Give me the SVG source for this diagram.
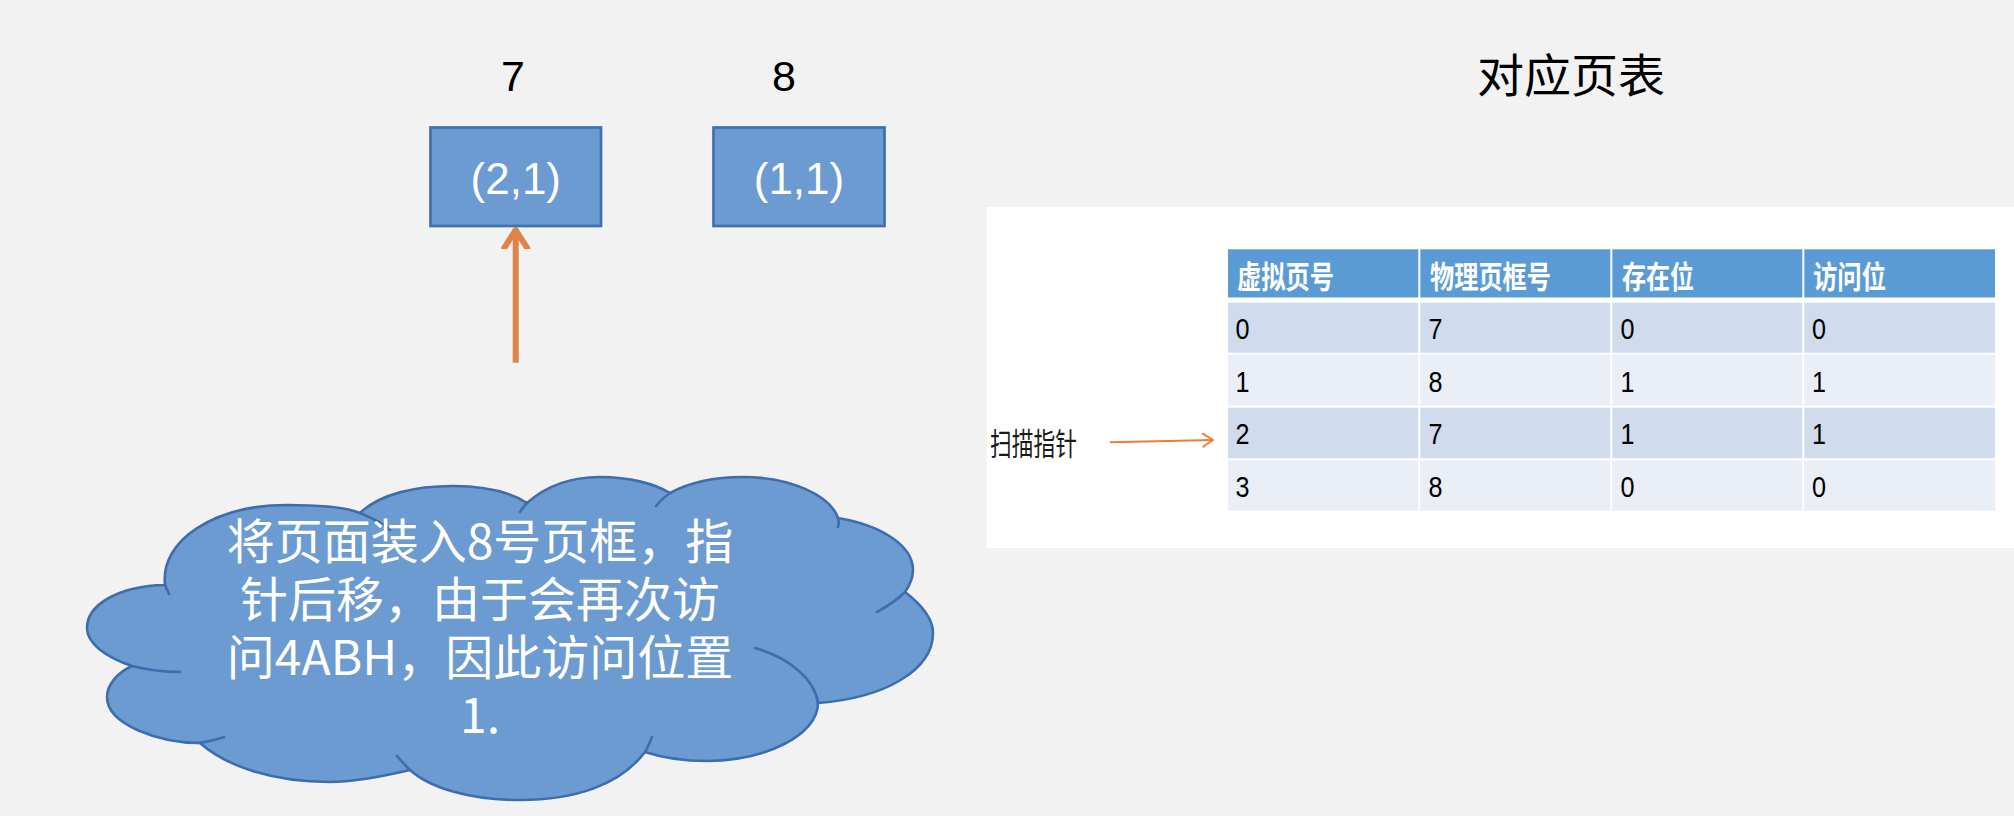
<svg xmlns="http://www.w3.org/2000/svg" width="2014" height="816" viewBox="0 0 2014 816">
  <style>
    .box { fill: #6B9BD1; stroke: #4170AE; stroke-width: 2.7; }
    .boxtxt { font-family: "Liberation Sans", "Noto Sans", sans-serif; font-size: 44px; fill: #FFFFFF; text-anchor: middle; }
    .num { font-family: "Liberation Sans", "Noto Sans", sans-serif; font-size: 43px; fill: #000000; text-anchor: middle; }
    .title { font-family: "Noto Sans CJK SC", sans-serif; font-size: 46px; fill: #000000; }
    .hdr { font-family: "Noto Sans CJK SC", sans-serif; font-size: 31px; font-weight: bold; fill: #FFFFFF; }
    .cell { font-family: "Liberation Sans", "Noto Sans", sans-serif; font-size: 30px; fill: #000000; }
    .cloudtxt { font-family: "Noto Sans CJK SC", sans-serif; font-size: 48px; fill: #FFFFFF; text-anchor: middle; }
    .ptr { font-family: "Noto Sans CJK SC", sans-serif; font-size: 31px; fill: #1A1A1A; }
    .cloud { fill: #6B9BD1; stroke: #3E6DAE; stroke-width: 2.6; stroke-linejoin: round; }
    .tails { fill: none; stroke: #3E6DAE; stroke-width: 2.6; stroke-linecap: round; }
  </style>
  <defs>
    <marker id="openBig" markerUnits="userSpaceOnUse" markerWidth="40" markerHeight="40" viewBox="-20 -20 40 40" refX="0" refY="0" orient="auto">
      <polyline points="-19,-11.5 -1,0 -19,11.5" fill="none" stroke="#E0834A" stroke-width="6" stroke-linecap="round" stroke-linejoin="round"/>
    </marker>
    <marker id="openSmall" markerUnits="userSpaceOnUse" markerWidth="20" markerHeight="20" viewBox="-12 -10 20 20" refX="0" refY="0" orient="auto">
      <polyline points="-10,-6.5 0,0 -10,6.5" fill="none" stroke="#ED7D31" stroke-width="2" stroke-linecap="round" stroke-linejoin="round"/>
    </marker>
  </defs>

  <rect x="0" y="0" width="2014" height="816" fill="#F2F2F2"/>

  <!-- frame labels -->
  <g id="label-7"><text class="num" x="513" y="91">7</text></g>
  <g id="label-8"><text class="num" x="784" y="91">8</text></g>

  <!-- frame boxes -->
  <g id="frame-7">
    <rect class="box" x="430.5" y="127.5" width="170.5" height="98.5"/>
    <text class="boxtxt" x="515.8" y="194">(2,1)</text>
  </g>
  <g id="frame-8">
    <rect class="box" x="713.5" y="127.5" width="171" height="98.5"/>
    <text class="boxtxt" x="799" y="194">(1,1)</text>
  </g>

  <!-- title -->
  <g id="title"><text class="title" x="1477" y="92" textLength="188" lengthAdjust="spacingAndGlyphs">对应页表</text></g>

  <!-- page table panel -->
  <g id="page-table">
    <rect x="987" y="207" width="1027" height="341" fill="#FFFFFF"/>
    <rect x="1228" y="249.3" width="767" height="48.2" fill="#5B9BD5"/>
    <rect x="1228" y="302.7" width="767" height="50" fill="#D0DCEE"/>
    <rect x="1228" y="354.5" width="767" height="51" fill="#E9EEF7"/>
    <rect x="1228" y="407.7" width="767" height="50.6" fill="#D0DCEE"/>
    <rect x="1228" y="460.3" width="767" height="50.4" fill="#E9EEF7"/>
    <g stroke="#FFFFFF" stroke-width="2">
      <line x1="1419.3" y1="249" x2="1419.3" y2="511"/>
      <line x1="1611.3" y1="249" x2="1611.3" y2="511"/>
      <line x1="1803.3" y1="249" x2="1803.3" y2="511"/>
    </g>
    <text class="hdr" x="1237" y="288" textLength="97" lengthAdjust="spacingAndGlyphs">虚拟页号</text>
    <text class="hdr" x="1430" y="288" textLength="121" lengthAdjust="spacingAndGlyphs">物理页框号</text>
    <text class="hdr" x="1622" y="288" textLength="72" lengthAdjust="spacingAndGlyphs">存在位</text>
    <text class="hdr" x="1813" y="288" textLength="73" lengthAdjust="spacingAndGlyphs">访问位</text>

    <text class="cell" x="1235.5" y="339" textLength="14" lengthAdjust="spacingAndGlyphs">0</text>
    <text class="cell" x="1428.5" y="339" textLength="14" lengthAdjust="spacingAndGlyphs">7</text>
    <text class="cell" x="1620.5" y="339" textLength="14" lengthAdjust="spacingAndGlyphs">0</text>
    <text class="cell" x="1812" y="339" textLength="14" lengthAdjust="spacingAndGlyphs">0</text>

    <text class="cell" x="1235.5" y="391.5" textLength="14" lengthAdjust="spacingAndGlyphs">1</text>
    <text class="cell" x="1428.5" y="391.5" textLength="14" lengthAdjust="spacingAndGlyphs">8</text>
    <text class="cell" x="1620.5" y="391.5" textLength="14" lengthAdjust="spacingAndGlyphs">1</text>
    <text class="cell" x="1812" y="391.5" textLength="14" lengthAdjust="spacingAndGlyphs">1</text>

    <text class="cell" x="1235.5" y="444" textLength="14" lengthAdjust="spacingAndGlyphs">2</text>
    <text class="cell" x="1428.5" y="444" textLength="14" lengthAdjust="spacingAndGlyphs">7</text>
    <text class="cell" x="1620.5" y="444" textLength="14" lengthAdjust="spacingAndGlyphs">1</text>
    <text class="cell" x="1812" y="444" textLength="14" lengthAdjust="spacingAndGlyphs">1</text>

    <text class="cell" x="1235.5" y="496.5" textLength="14" lengthAdjust="spacingAndGlyphs">3</text>
    <text class="cell" x="1428.5" y="496.5" textLength="14" lengthAdjust="spacingAndGlyphs">8</text>
    <text class="cell" x="1620.5" y="496.5" textLength="14" lengthAdjust="spacingAndGlyphs">0</text>
    <text class="cell" x="1812" y="496.5" textLength="14" lengthAdjust="spacingAndGlyphs">0</text>
  </g>

  <g id="scan-pointer-label"><text class="ptr" x="990" y="454.5" textLength="87" lengthAdjust="spacingAndGlyphs">扫描指针</text></g>

  <!-- cloud callout -->
  <g id="cloud">
    <path class="cloud" d="M165,585 C160,540 215,505 287,505 C325,505 348,508 360,513 C380,494 415,486 453,486 C485,486 510,492 527,503 C545,487 570,477 600,477 C630,477 655,484 670,493 C690,482 715,477 743,477 C790,477 830,495 838,518 C880,525 913,545 913,570 C913,578 910,585 905,592 C922,605 933,618 933,633 C933,670 885,698 818,703 C818,735 765,761 707,761 C680,761 660,757 645,752 C620,785 575,800 520,800 C470,800 430,788 410,770 C380,777 355,782 330,782 C270,782 225,765 200,743 C160,743 107,725 107,697 C107,685 117,673 132,666 C105,657 87,643 87,628 C87,605 118,586 165,585 Z"/>
    <path class="tails" d="M360,513 C372,518 383,523 390,530 M527,503 C524,506 522,509 520,512 M670,493 C664,497 660,501 656,506 M838,518 C839,521 839,524 838,527 M905,592 C897,600 888,606 877,612 M818,703 C815,680 790,658 755,648 M645,752 C648,747 650,742 652,737 M410,770 C405,765 401,761 397,756 M198,743 C207,742 215,740 224,737 M132,666 C148,670 165,672 180,672 M165,585 C166,588 168,591 169,594"/>
    <text class="cloudtxt"><tspan x="480" y="559">将页面装入8号页框，指</tspan><tspan x="480" y="617">针后移，由于会再次访</tspan><tspan x="480" y="675">问4ABH，因此访问位置</tspan><tspan x="480" y="733">1.</tspan></text>
  </g>

  <!-- connectors -->
  <g id="connectors">
    <line x1="515.7" y1="362.7" x2="515.7" y2="229" stroke="#E0834A" stroke-width="6" marker-end="url(#openBig)"/>
    <line x1="1110" y1="442.3" x2="1213" y2="440" stroke="#ED7D31" stroke-width="2" marker-end="url(#openSmall)"/>
  </g>
</svg>
